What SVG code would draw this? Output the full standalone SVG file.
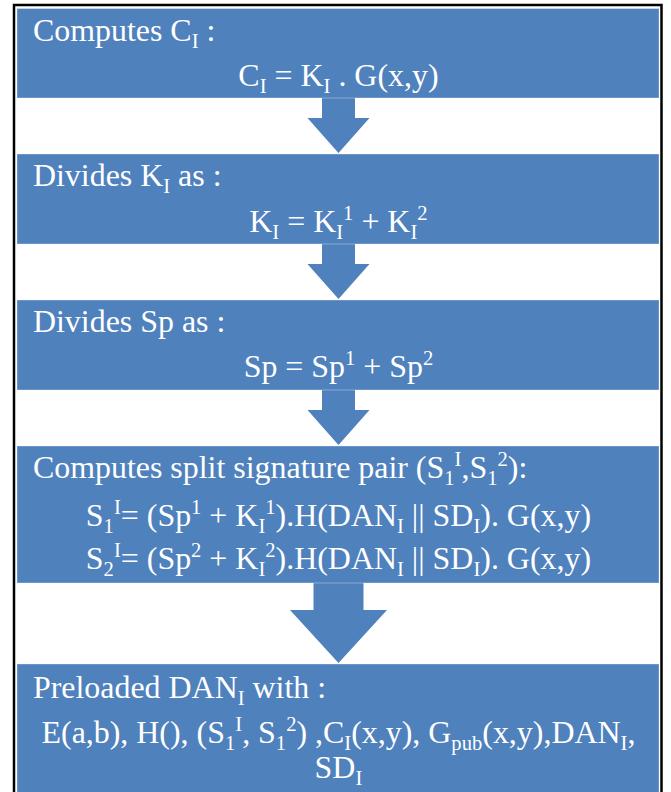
<svg xmlns="http://www.w3.org/2000/svg" width="671" height="792" viewBox="0 0 671 792">
  <style>
    .box { fill: #4F81BD; stroke: #ffffff; stroke-opacity: 0.35; stroke-width: 1; }
    .arrow { fill: #4F81BD; }
    .t { font-family: "Liberation Serif", "Times New Roman", serif; font-size: 31px; fill: #ffffff; }
    .c { text-anchor: middle; }
    .s { font-size: 20px; }
  </style>
  <rect x="0" y="0" width="671" height="792" fill="#ffffff"/>
  <!-- outer frame, open at the bottom edge -->
  <rect x="14" y="5" width="647.5" height="820" fill="none" stroke="#000000" stroke-width="2.5"/>

  <g id="connectors">
    <polygon class="arrow" points="322,97 355,97 355,118 369.5,118 338.5,153 307.5,118 322,118"/>
    <polygon class="arrow" points="322,243 355,243 355,264 369.5,264 338.5,299 307.5,264 322,264"/>
    <polygon class="arrow" points="322,389 355,389 355,410 369.5,410 338.5,445 307.5,410 322,410"/>
    <polygon class="arrow" points="313.5,582 363.5,582 363.5,610 387,610 338.5,663 290,610 313.5,610"/>
  </g>

  <!-- step text is slightly widened -->
  <g id="step1">
    <rect class="box" x="17" y="8.5" width="642" height="89.5"/>
    <g transform="scale(1.03,1)">
      <text class="t" x="32" y="41">Computes C<tspan class="s" dy="7">I</tspan><tspan dy="-7"> :</tspan></text>
      <text class="t c" x="328.6" y="86">C<tspan class="s" dy="7">I</tspan><tspan dy="-7"> = K</tspan><tspan class="s" dy="7">I</tspan><tspan dy="-7"> . G(x,y)</tspan></text>
    </g>
  </g>

  <g id="step2">
    <rect class="box" x="17" y="154" width="642" height="90"/>
    <g transform="scale(1.03,1)">
      <text class="t" x="32" y="186">Divides K<tspan class="s" dy="7">I</tspan><tspan dy="-7"> as :</tspan></text>
      <text class="t c" x="328.6" y="232">K<tspan class="s" dy="7">I</tspan><tspan dy="-7"> = K</tspan><tspan class="s" dy="7">I</tspan><tspan class="s" dy="-19">1</tspan><tspan dy="12"> + K</tspan><tspan class="s" dy="7">I</tspan><tspan class="s" dy="-19">2</tspan></text>
    </g>
  </g>

  <g id="step3">
    <rect class="box" x="17" y="300" width="642" height="90"/>
    <g transform="scale(1.03,1)">
      <text class="t" x="32" y="332">Divides Sp as :</text>
      <text class="t c" x="328.6" y="377">Sp = Sp<tspan class="s" dy="-12">1</tspan><tspan dy="12"> + Sp</tspan><tspan class="s" dy="-12">2</tspan></text>
    </g>
  </g>

  <g id="step4">
    <rect class="box" x="17" y="446" width="642" height="137"/>
    <g transform="scale(1.03,1)">
      <text class="t" x="32" y="478">Computes split signature pair (S<tspan class="s" dy="7">1</tspan><tspan class="s" dy="-19">I</tspan><tspan dy="12">,S</tspan><tspan class="s" dy="7">1</tspan><tspan class="s" dy="-19">2</tspan><tspan dy="12">):</tspan></text>
      <text class="t c" x="328.6" y="526">S<tspan class="s" dy="7">1</tspan><tspan class="s" dy="-19">I</tspan><tspan dy="12">= (Sp</tspan><tspan class="s" dy="-12">1</tspan><tspan dy="12"> + K</tspan><tspan class="s" dy="7">I</tspan><tspan class="s" dy="-19">1</tspan><tspan dy="12">).H(DAN</tspan><tspan class="s" dy="7">I</tspan><tspan dy="-7"> || SD</tspan><tspan class="s" dy="7">I</tspan><tspan dy="-7">). G(x,y)</tspan></text>
      <text class="t c" x="328.6" y="569">S<tspan class="s" dy="7">2</tspan><tspan class="s" dy="-19">I</tspan><tspan dy="12">= (Sp</tspan><tspan class="s" dy="-12">2</tspan><tspan dy="12"> + K</tspan><tspan class="s" dy="7">I</tspan><tspan class="s" dy="-19">2</tspan><tspan dy="12">).H(DAN</tspan><tspan class="s" dy="7">I</tspan><tspan dy="-7"> || SD</tspan><tspan class="s" dy="7">I</tspan><tspan dy="-7">). G(x,y)</tspan></text>
    </g>
  </g>

  <g id="step5">
    <rect class="box" x="17" y="664" width="642" height="140"/>
    <g transform="scale(1.03,1)">
      <text class="t" x="32" y="698">Preloaded DAN<tspan class="s" dy="7">I</tspan><tspan dy="-7"> with :</tspan></text>
      <text class="t c" x="328.6" y="743">E(a,b), H(), (S<tspan class="s" dy="7">1</tspan><tspan class="s" dy="-19">I</tspan><tspan dy="12">, S</tspan><tspan class="s" dy="7">1</tspan><tspan class="s" dy="-19">2</tspan><tspan dy="12">) ,C</tspan><tspan class="s" dy="7">I</tspan><tspan dy="-7">(x,y), G</tspan><tspan class="s" dy="7">pub</tspan><tspan dy="-7">(x,y),DAN</tspan><tspan class="s" dy="7">I</tspan><tspan dy="-7">,</tspan></text>
      <text class="t c" x="328.6" y="778">SD<tspan class="s" dy="7">I</tspan></text>
    </g>
  </g>
</svg>
